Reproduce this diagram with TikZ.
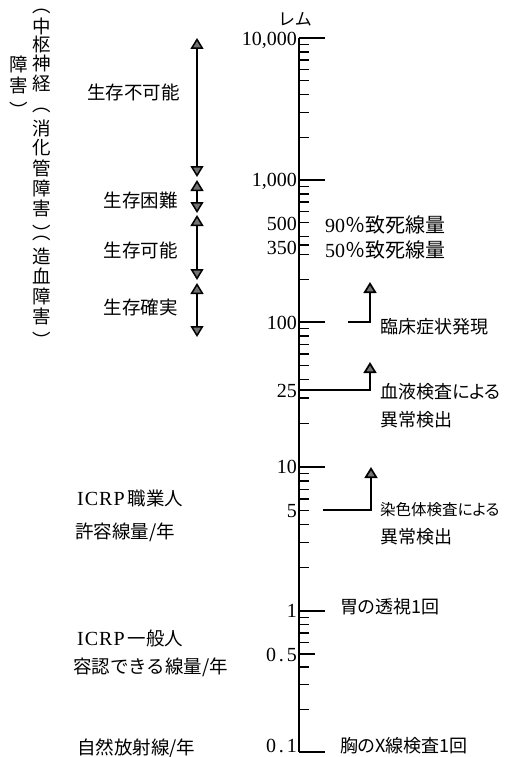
\documentclass[tikz,border=0pt]{standalone}
\usepackage{fontspec}
\setmainfont{Liberation Serif}
\newfontfamily\jp{Noto Sans CJK JP}
\newfontfamily\jpp[RawFeature=+palt]{Noto Sans CJK JP}
\newfontfamily\spc[LetterSpace=14]{Liberation Serif}
\newfontfamily\spcb[LetterSpace=5]{Liberation Serif}
\usetikzlibrary{arrows.meta}
\newcommand\closep{\smash{\raisebox{-14pt}{︶}}}
\tikzset{
  tri/.tip={Triangle[width=13pt,length=11pt,fill=black!55]},
  axisline/.style={line width=1.6pt},
  tickline/.style={line width=1.5pt},
  dblarrow/.style={line width=1.5pt,tri-tri},
  uparrow/.style={line width=1.7pt,-tri},
  num/.style={anchor=east,inner sep=0pt,font=\fontsize{20}{22}\selectfont},
  jlab/.style={inner sep=0pt,font=\fontsize{18.5}{21}\selectfont\jp},
  rlab/.style={inner sep=0pt,anchor=west,align=left,font=\fontsize{18}{28}\selectfont\jpp},
  vchar/.style={inner sep=0pt,font=\fontsize{18.5}{20}\selectfont\jp},
  vparen/.style={vchar,text height=4pt,text depth=2pt},
  vclose/.style={vchar,text height=3pt,text depth=3pt},
}
\begin{document}
\begin{tikzpicture}[x=1pt,y=-1pt]
\useasboundingbox[fill=white] (0,0) rectangle (505,757);

% ---- scale axis
\draw[axisline] (299,38) -- (299,752);
\foreach \y in {38,180,322,467,611,752}
  \draw[tickline] (299,\y) -- (325,\y);
\foreach \t/\b in {38/180,180/322,322/467,467/611,611/752}{
  \foreach \m in {2,...,9}{
    \pgfmathsetmacro\yy{\b-(\b-\t)*log10(\m)}
    \draw[tickline] (299,\yy) -- (309,\yy);
  }
}
\draw[tickline] (299,245) -- (309,245);
\draw[tickline] (299,654) -- (315,654);

% ---- tick labels
\node[jlab] (unit) at (295,19) {\fontsize{17}{19}\selectfont レム};
\node[num] (l10000) at (297,40) {10,000};
\node[num] (l1000) at (297,181) {1,000};
\node[num] (l500) at (297,224) {500};
\node[num] (l350) at (297,248) {350};
\node[num] (l100) at (297,323) {100};
\node[num] (l25) at (297,391) {25};
\node[num] (l10) at (297,467) {10};
\node[num] (l5) at (297,511) {5};
\node[num] (l1) at (297,611) {1};
\node[num] (l05) at (297,655) {\spc 0.5};
\node[num] (l01) at (297,746) {\spc 0.1};

% ---- right labels
\node[num,anchor=west] (d90) at (325,225) {90{\jp ％致死線量}};
\node[num,anchor=west] (d50) at (325,250) {50{\jp ％致死線量}};
\node[rlab] (rin) at (380,327) {臨床症状発現};
\node[rlab] (ketsu) at (380,406) {血液検査による\\異常検出};
\node[rlab] (sen) at (380,524) {{\fontsize{15.5}{28}\selectfont 染色体検査による}\\異常検出};
\node[rlab] (i) at (340,607) {胃の透視1回};
\node[rlab] (mune) at (340,746) {胸のX線検査1回};

% ---- right arrows
\coordinate (a100s) at (348,322);
\coordinate (a100t) at (370,282);
\draw[uparrow] (a100s) -| (a100t);
\coordinate (a25s) at (299,390);
\coordinate (a25t) at (370,362);
\draw[uparrow] (a25s) -| (a25t);
\coordinate (a5s) at (323,510);
\coordinate (a5t) at (371,467);
\draw[uparrow] (a5s) -| (a5t);

% ---- survival arrows
\coordinate (s1t) at (197,38);  \coordinate (s1b) at (197,177);
\coordinate (s2t) at (197,180); \coordinate (s2b) at (197,213);
\coordinate (s3t) at (197,215); \coordinate (s3b) at (197,280);
\coordinate (s4t) at (197,283); \coordinate (s4b) at (197,337);
\draw[dblarrow] (s1t) -- (s1b);
\draw[dblarrow] (s2t) -- (s2b);
\draw[dblarrow] (s3t) -- (s3b);
\draw[dblarrow] (s4t) -- (s4b);
\node[jlab,anchor=east] (fuka) at (180,92) {生存不可能};
\node[jlab,anchor=east] (konnan) at (178,200) {生存困難};
\node[jlab,anchor=east] (kanou) at (178,250) {生存可能};
\node[jlab,anchor=east] (kakujitsu) at (178,307) {生存確実};

% ---- vertical text
\foreach \c/\y [count=\i] in {中/26,枢/44,神/63,経/83,消/128,化/148,管/168,障/188,害/208,造/256,血/276,障/296,害/316}
  \node[vchar] (vr\i) at (42,\y) {\c};
\node[vparen] (vp1) at (42,12) {︵};
\node[vparen] (vp2) at (42,111) {︵};
\node[vclose] (vp3) at (42,226) {\closep};
\node[vparen] (vp4) at (42,238) {︵};
\node[vclose] (vp5) at (42,333) {\closep};
\foreach \c/\y [count=\i] in {障/64,害/85}
  \node[vchar] (vl\i) at (19,\y) {\c};
\node[vclose] (vl3) at (19,103) {\closep};

% ---- left labels
\node[jlab,anchor=west] (icrp1) at (77,498) {{\rmfamily\fontsize{20}{22}\selectfont\spcb ICRP}\hspace{3pt}職業人};
\node[jlab,anchor=west] (kyoyo) at (75,532) {許容線量/年};
\node[jlab,anchor=west] (icrp2) at (77,638) {{\rmfamily\fontsize{20}{22}\selectfont\spcb ICRP}\hspace{3pt}一般人};
\node[jlab,anchor=west] (yonin) at (73,667) {容認できる線量/年};
\node[jlab,anchor=west] (shizen) at (77,748) {自然放射線/年};
\end{tikzpicture}
\end{document}
